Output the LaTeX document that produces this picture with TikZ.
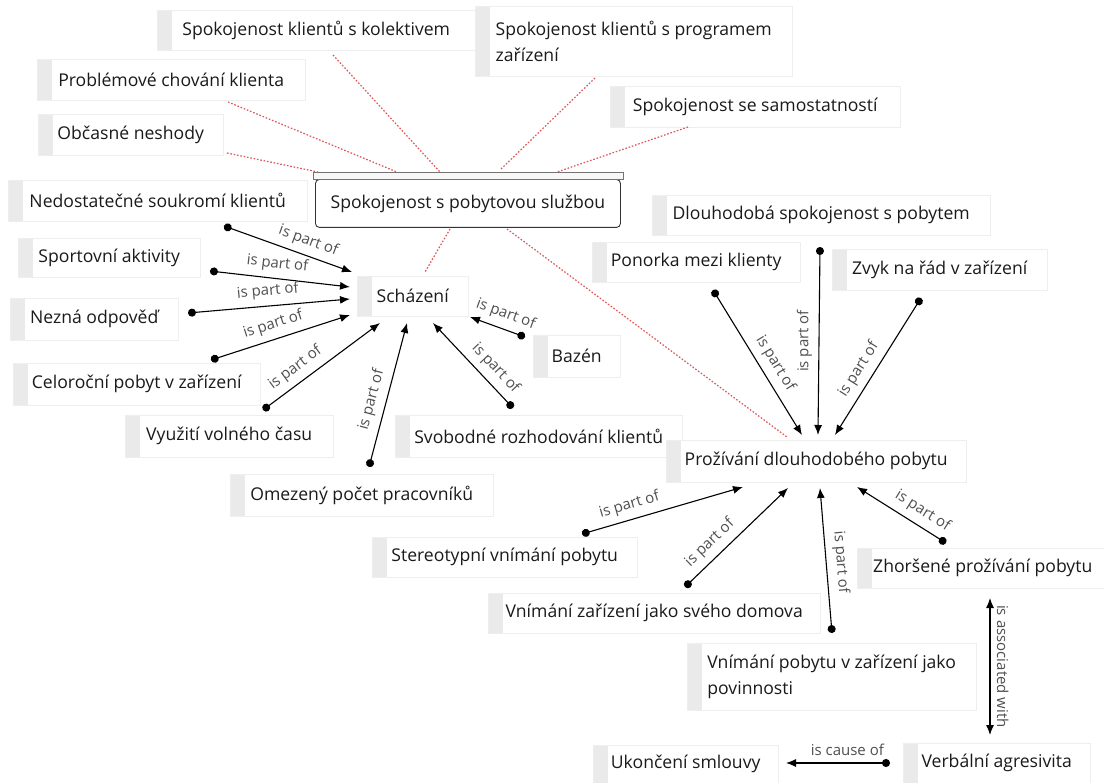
\documentclass[tikz,border=0pt]{standalone}
\usepackage{fontspec}
\setmainfont{Open Sans}
\usetikzlibrary{arrows.meta,calc}
\definecolor{txt}{HTML}{1A1A1A}
\definecolor{lbl}{HTML}{505050}
\definecolor{strip}{HTML}{EAEAEA}
\definecolor{rim}{HTML}{EEEEEE}
\definecolor{reddot}{HTML}{E05555}
\tikzset{
  concept/.style={draw=rim, fill=white, anchor=north west, inner xsep=16pt, inner ysep=0pt,
    text=txt, font=\fontsize{17.6}{26}\selectfont, align=left,
    path picture={\fill[strip] (path picture bounding box.north west) rectangle
      ([xshift=15pt]path picture bounding box.south west);}},
  core/.style={draw=black!80, rounded corners=4pt, line width=0.9pt, fill=white, anchor=north west,
    inner xsep=7pt, text=txt, font=\fontsize{17.6}{26}\selectfont},
  corebar/.style={draw=black!55, fill=black!3, line width=0.8pt},
  link/.style={line width=1.1pt, draw=black, {Circle[length=8pt]}-{Latex[length=10pt,width=8pt]}},
  twoway/.style={line width=1.1pt, draw=black, {Latex[length=10pt,width=8pt]}-{Latex[length=10pt,width=8pt]}},
  rel/.style={anchor=south, inner xsep=2pt, inner ysep=6.5pt, text=lbl, font=\fontsize{15}{17}\selectfont},
  tie/.style={draw=reddot, line width=1.2pt, dash pattern=on 1.6pt off 1.8pt},
}
\begin{document}
\begin{tikzpicture}[x=1pt,y=-1pt]
\fill[white] (0,0) rectangle (1104,783);
\useasboundingbox (0,0) rectangle (1104,783);

% concepts
\node[concept, minimum width=318pt, minimum height=40pt] (kol) at (157,10) {Spokojenost klientů s kolektivem};
\node[concept, minimum width=317pt, minimum height=70pt] (prog) at (475,6) {Spokojenost klientů s programem\\zařízení};
\node[concept, minimum width=268pt, minimum height=41pt] (prob) at (37,59) {Problémové chování klienta};
\node[concept, minimum width=290pt, minimum height=41pt] (samo) at (610,86) {Spokojenost se samostatností};
\node[concept, minimum width=185pt, minimum height=41pt] (obc) at (38,114) {Občasné neshody};
\node[concept, minimum width=299pt, minimum height=41pt] (nedo) at (8,180) {Nedostatečné soukromí klientů};
\node[concept, minimum width=338pt, minimum height=40pt] (dlou) at (652,195) {Dlouhodobá spokojenost s pobytem};
\node[concept, minimum width=182pt, minimum height=39pt] (spor) at (18,238) {Sportovní aktivity};
\node[concept, minimum width=208pt, minimum height=40pt] (pono) at (592,242) {Ponorka mezi klienty};
\node[concept, minimum width=215pt, minimum height=41pt] (zvyk) at (832,249) {Zvyk na řád v zařízení};
\node[concept, minimum width=111pt, minimum height=40pt] (schaz) at (357,276) {Scházení};
\node[concept, minimum width=168pt, minimum height=42pt] (nezna) at (10,298) {Nezná odpověď};
\node[concept, minimum width=87pt, minimum height=42pt] (bazen) at (533,335) {Bazén};
\node[concept, minimum width=247pt, minimum height=42pt] (celo) at (13,363) {Celoroční pobyt v zařízení};
\node[concept, minimum width=208pt, minimum height=42pt] (vyuz) at (125,415) {Využití volného času};
\node[concept, minimum width=287pt, minimum height=42pt] (svob) at (395,415) {Svobodné rozhodování klientů};
\node[concept, minimum width=300pt, minimum height=42pt] (proz) at (666,440) {Prožívání dlouhodobého pobytu};
\node[concept, minimum width=263pt, minimum height=42pt] (omez) at (230,474) {Omezený počet pracovníků};
\node[concept, minimum width=265pt, minimum height=40pt] (ster) at (372,537) {Stereotypní vnímání pobytu};
\node[concept, minimum width=247pt, minimum height=40pt] (zhor) at (857,548) {Zhoršené prožívání pobytu};
\node[concept, minimum width=332pt, minimum height=40pt] (vnzd) at (488,593) {Vnímání zařízení jako svého domova};
\node[concept, minimum width=289pt, minimum height=67pt] (vnpp) at (687,643) {Vnímání pobytu v zařízení jako\\povinnosti};
\node[concept, minimum width=187pt, minimum height=40pt] (verb) at (903,743) {Verbální agresivita};
\node[concept, minimum width=185pt, minimum height=38pt] (ukon) at (593,745) {Ukončení smlouvy};

% central concept with its header bar
\node[core, minimum width=305pt, minimum height=48pt] (spok) at (315,179) {Spokojenost s pobytovou službou};
\draw[corebar] ([xshift=-2pt]spok.north west) rectangle ([shift={(2,-7)}]spok.north east);

% dotted associations of the central concept
\draw[tie] ([shift={(176,45)}]kol.north west) -- ([shift={(125,-7)}]spok.north west);
\draw[tie] ([shift={(120,72)}]prog.north west) -- ([shift={(185,-9)}]spok.north west);
\draw[tie] ([shift={(191,43)}]prob.north west) -- ([shift={(82,-7)}]spok.north west);
\draw[tie] ([shift={(78,41)}]samo.north west) -- ([shift={(242,-7)}]spok.north west);
\draw[tie] ([shift={(189,39)}]obc.north west) -- ([shift={(3,-7)}]spok.north west);
\draw[tie] ([shift={(135,50)}]spok.north west) -- ([shift={(68,-4)}]schaz.north west);
\draw[tie] ([shift={(192,50)}]spok.north west) -- ([shift={(121,-3)}]proz.north west);

% parts of "Scházení"
\draw[link] ([shift={(216,46)}]nedo.north west) -- node[rel,pos=.62,rotate=-20]{is part of} ([shift={(-5,-4)}]schaz.north west);
\draw[link] ([shift={(192,33)}]spor.north west) -- node[rel,pos=.47,rotate=-6.5]{is part of} ([shift={(-7,11)}]schaz.north west);
\draw[link] ([shift={(178,15)}]nezna.north west) -- node[rel,pos=.5,rotate=5]{is part of} ([shift={(-7,23)}]schaz.north west);
\draw[link] ([shift={(198,-3)}]celo.north west) -- node[rel,pos=.48,rotate=18]{is part of} ([shift={(-7,39)}]schaz.north west);
\draw[link] ([shift={(138,-5)}]vyuz.north west) -- node[rel,pos=.35,rotate=36.6]{is part of} ([shift={(23,47)}]schaz.north west);
\draw[link] ([shift={(139,-7)}]omez.north west) -- node[rel,pos=.44,rotate=75]{is part of} ([shift={(50,47)}]schaz.north west);
\draw[link] ([shift={(-8,2)}]bazen.north west) -- node[rel,pos=.44,rotate=-20]{is part of} ([shift={(113,41)}]schaz.north west);
\draw[link] ([shift={(118,-7)}]svob.north west) -- node[rel,pos=.35,rotate=-46.7]{is part of} ([shift={(76,47)}]schaz.north west);

% parts of "Prožívání dlouhodobého pobytu"
\draw[link] ([shift={(121,48)}]pono.north west) -- node[rel,pos=.56,rotate=-58.5]{is part of} ([shift={(136,-5)}]proz.north west);
\draw[link] ([shift={(168,52)}]dlou.north west) -- node[rel,pos=.5,rotate=90]{is part of} ([shift={(152,-5)}]proz.north west);
\draw[link] ([shift={(89,49)}]zvyk.north west) -- node[rel,pos=.58,rotate=57.9]{is part of} ([shift={(169,-5)}]proz.north west);
\draw[link] ([shift={(210,-3)}]ster.north west) -- node[rel,pos=.32,rotate=16.3]{is part of} ([shift={(77,47)}]proz.north west);
\draw[link] ([shift={(197,-6)}]vnzd.north west) -- node[rel,pos=.34,rotate=43.9]{is part of} ([shift={(122,48)}]proz.north west);
\draw[link] ([shift={(145,-10)}]vnpp.north west) -- node[rel,pos=.48,rotate=-85.3]{is part of} ([shift={(154,48)}]proz.north west);
\draw[link] ([shift={(89,-5)}]zhor.north west) -- node[rel,pos=.35,rotate=-32]{is part of} ([shift={(191,47)}]proz.north west);

% remaining relations
\draw[twoway] ([shift={(133,50)}]zhor.north west) -- node[rel,pos=.5,rotate=-90]{is associated with} ([shift={(87,-8)}]verb.north west);
\draw[link] ([shift={(-13,20)}]verb.north west) -- node[rel,pos=.41]{is cause of} ([shift={(193,18)}]ukon.north west);
\end{tikzpicture}
\end{document}
